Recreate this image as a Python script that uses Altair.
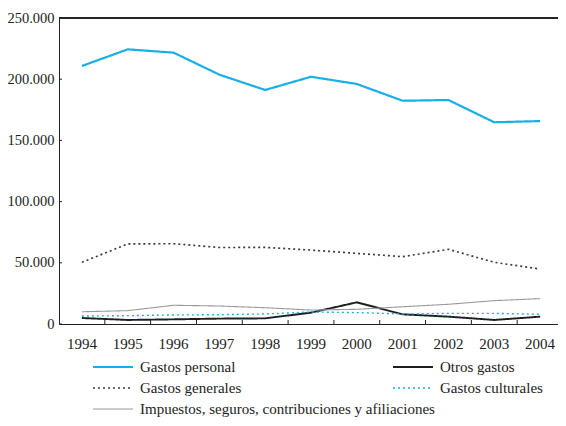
import altair as alt
import pandas as pd

years = ["1994", "1995", "1996", "1997", "1998", "1999", "2000", "2001", "2002", "2003", "2004"]
series = [
    "Gastos personal",
    "Otros gastos",
    "Gastos generales",
    "Gastos culturales",
    "Impuestos, seguros, contribuciones y afiliaciones",
]
gastos_personal = [210800, 224400, 221700, 203700, 191200, 202000, 196100, 182400, 183000, 164800, 165800]
otros_gastos = [4900, 3300, 3800, 4400, 4600, 9300, 17700, 7900, 6000, 3300, 6000]
gastos_generales = [50400, 65400, 65600, 62500, 62600, 60400, 57700, 55000, 61000, 50400, 44900]
gastos_culturales = [6500, 6800, 7400, 7600, 8200, 9800, 9300, 8200, 8700, 8700, 7900]
impuestos = [10000, 10900, 15300, 14700, 13300, 11400, 12000, 14100, 16100, 19100, 20700]
y_ticks = [0, 50000, 100000, 150000, 200000, 250000]

values = [gastos_personal, otros_gastos, gastos_generales, gastos_culturales, impuestos]
rows = []
for s, vals in zip(series, values):
    for yr, v in zip(years, vals):
        rows.append({"year": yr, "serie": s, "valor": v})
df = pd.DataFrame(rows)

# legend entries laid out two per row, in series order
legend_df = pd.DataFrame({
    "serie": series,
    "col": [i % 2 for i in range(len(series))],
    "fila": [i // 2 for i in range(len(series))],
})

W = 499
H = 306
BAND_RANGE = 504
FONT = "Liberation Serif"
INK = "#222"
SYM = 40          # legend symbol length (px)
COL_GAP = 300     # distance between legend columns (px)

colors = ["#19afe6", "#1e1e1e", "#3a3a3a", "#19afe6", "#9a9a9a"]
dashes = [[1, 0], [1, 0], [2, 3], [2, 3], [1, 0]]
widths = [2.2, 1.1, 1.4, 1.6, 1.1]

color_enc = alt.Color("serie:N", scale=alt.Scale(domain=series, range=colors), legend=None)
dash_enc = alt.StrokeDash("serie:N", scale=alt.Scale(domain=series, range=dashes), legend=None)
width_enc = alt.StrokeWidth("serie:N", scale=alt.Scale(domain=series, range=widths), legend=None)

xscale = alt.Scale(type="band", domain=years, range=[0, BAND_RANGE], paddingInner=0, paddingOuter=0)
yscale = alt.Scale(domain=[0, 250000], nice=False)

x_axis = alt.Axis(title=None, labelAngle=0, ticks=False, tickSize=0, domain=True,
                  domainColor=INK, domainWidth=1,
                  labelPadding=12, labelFontSize=15, labelFont=FONT, labelColor=INK)
y_axis = alt.Axis(title=None, values=y_ticks, ticks=False, tickSize=0, domain=True,
                  domainColor=INK, domainWidth=1, grid=False,
                  labelPadding=5, labelFontSize=14.5, labelFont=FONT, labelColor=INK,
                  labelExpr="replace(format(datum.value, ','), ',', '.')")

lines = alt.Chart(df).mark_line().encode(
    x=alt.X("year:O", scale=xscale, bandPosition=0.5, axis=x_axis),
    y=alt.Y("valor:Q", scale=yscale, axis=y_axis),
    color=color_enc, strokeDash=dash_enc, strokeWidth=width_enc,
)

ydf = pd.DataFrame({"valor": y_ticks})
left_ticks = alt.Chart(ydf).mark_rule(color=INK, strokeWidth=1).encode(
    y=alt.Y("valor:Q", scale=yscale, axis=None),
    x=alt.value(0), x2=alt.value(3),
)
xdf = pd.DataFrame({"year": years[1:]})
bottom_ticks = alt.Chart(xdf).mark_rule(color=INK, strokeWidth=1).encode(
    x=alt.X("year:O", scale=xscale, bandPosition=0, axis=None),
    y=alt.value(H - 4), y2=alt.value(H),
)
top_line = alt.Chart(ydf).mark_rule(color=INK, strokeWidth=1).encode(
    x=alt.value(0), x2=alt.value(BAND_RANGE), y=alt.value(0),
)

leg_x = alt.Scale(domain=[0, 1], range=[34, 34 + COL_GAP])
leg_y = alt.Scale(domain=[0, 2], range=[349, 391])
legend_base = alt.Chart(legend_df).transform_calculate(col_end=f"datum.col + {SYM / COL_GAP}")
legend_sym = legend_base.mark_rule().encode(
    x=alt.X("col:Q", scale=leg_x, axis=None),
    x2="col_end:Q",
    y=alt.Y("fila:Q", scale=leg_y, axis=None),
    color=color_enc, strokeDash=dash_enc, strokeWidth=width_enc,
)
legend_txt = legend_base.mark_text(align="left", baseline="middle", dx=SYM + 7,
                                   font=FONT, fontSize=15, color=INK).encode(
    x=alt.X("col:Q", scale=leg_x, axis=None),
    y=alt.Y("fila:Q", scale=leg_y, axis=None),
    text="serie:N",
)

chart = alt.layer(lines, left_ticks, bottom_ticks, top_line, legend_sym, legend_txt).resolve_scale(
    x="independent", y="independent"
).properties(
    width=W, height=H,
    autosize=alt.AutoSizeParams(type="none"),
    padding={"left": 51, "top": 10, "right": 0, "bottom": 94},
).configure_view(
    stroke=None
).configure(background="white")

chart.save("out.html", embed_options={"renderer": "svg", "actions": False})
